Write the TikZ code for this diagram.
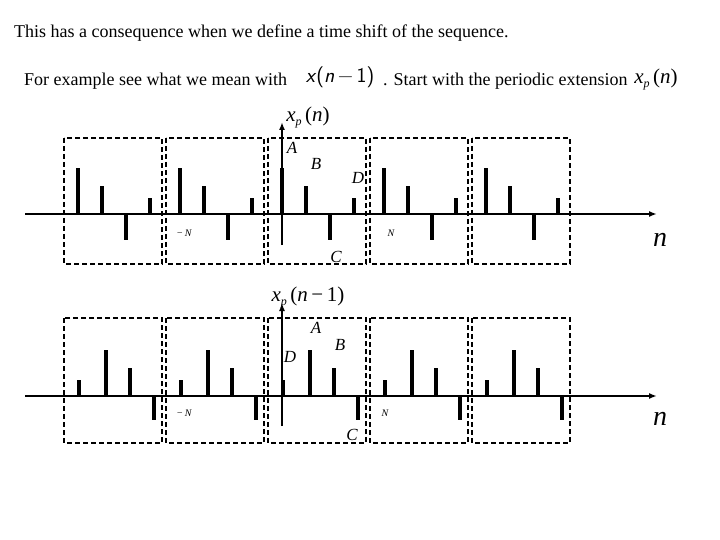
\documentclass[tikz,border=0pt]{standalone}
\usepackage{fontspec}
\setmainfont{Liberation Serif}
\usetikzlibrary{arrows.meta}
\newcommand{\mv}[1]{\textit{#1}}
\begin{document}
\begin{tikzpicture}[x=1pt,y=-1pt,
  stem/.style={line width=4.5pt},
  box/.style={draw,dashed,line width=1.6pt,dash pattern=on 5pt off 3pt},
  ax/.style={line width=1.6pt,-{Latex[length=8pt,width=6pt]}},
  lab/.style={font=\fontsize{17}{17}\selectfont\itshape,inner sep=0pt},
  ml/.style={font=\fontsize{21}{21}\selectfont,inner sep=0pt},
  sm/.style={font=\fontsize{10}{10}\selectfont\itshape,inner sep=0pt},
  txt/.style={font=\fontsize{18}{18}\selectfont,inner sep=0pt,anchor=west}]
\useasboundingbox (0,0) rectangle (720,540);
\node[txt] (t1) at (14,33) {This has a consequence when we define a time shift of the sequence.};
\node[txt] (t2) at (24,81) {For example see what we mean with};
\node[ml,font=\fontsize{21}{21}\selectfont\sffamily] (m1) at (340,77) {\mv{x}(\mv{n}\,−\,1)};
\node[txt] (t3) at (383,81) {. Start with the periodic extension};
\node[ml] (m2) at (656,79) {\mv{x}\raisebox{-4pt}{\fontsize{12}{12}\selectfont\mv{p}}\,(\mv{n})};
% top
\foreach \k in {-2,...,2}{
  \draw[box] (270+102*\k-2,138) rectangle (366+102*\k,264);
  \draw[stem] (282+102*\k,214) -- ++(0,-46);
  \draw[stem] (306+102*\k,214) -- ++(0,-28);
  \draw[stem] (330+102*\k,214) -- ++(0,26);
  \draw[stem] (354+102*\k,214) -- ++(0,-16);
}
\coordinate (hl1) at (25,214); \coordinate (hr1) at (657,214);
\draw[ax] (hl1) -- (hr1);
\coordinate (vb1) at (282,245); \coordinate (vt1) at (282,122);
\draw[ax] (vb1) -- (vt1);
\node[ml] (yl1) at (308,117) {\mv{x}\raisebox{-4pt}{\fontsize{12}{12}\selectfont\mv{p}}\,(\mv{n})};
\node[lab] (A1) at (292,148) {A};
\node[lab] (B1) at (316,164) {B};
\node[lab] (D1) at (358,178) {D};
\node[lab] (C1) at (336,257) {C};
\node[sm] (mN1) at (184,233) {−\,N};
\node[sm] (N1) at (391,233) {N};
\node[font=\fontsize{28}{28}\selectfont\itshape,inner sep=0pt] (n1) at (660,240) {n};
% bottom
\foreach \k in {-2,...,2}{
  \draw[box] (270+102*\k-2,318) rectangle (366+102*\k,443);
  \draw[stem] (283+102*\k,396) -- ++(0,-16);
  \draw[stem] (310+102*\k,396) -- ++(0,-46);
  \draw[stem] (334+102*\k,396) -- ++(0,-28);
  \draw[stem] (358+102*\k,396) -- ++(0,24);
}
\coordinate (hl2) at (25,396); \coordinate (hr2) at (657,396);
\draw[ax] (hl2) -- (hr2);
\coordinate (vb2) at (282,426); \coordinate (vt2) at (282,303);
\draw[ax] (vb2) -- (vt2);
\node[ml] (yl2) at (308,297) {\mv{x}\raisebox{-4pt}{\fontsize{12}{12}\selectfont\mv{p}}\,(\mv{n}\,−\,1)};
\node[lab] (A2) at (316,328) {A};
\node[lab] (B2) at (340,345) {B};
\node[lab] (D2) at (290,357) {D};
\node[lab] (C2) at (352,435) {C};
\node[sm] (mN2) at (184,413) {−\,N};
\node[sm] (N2) at (385,413) {N};
\node[font=\fontsize{28}{28}\selectfont\itshape,inner sep=0pt] (n2) at (660,419) {n};
\end{tikzpicture}
\end{document}
